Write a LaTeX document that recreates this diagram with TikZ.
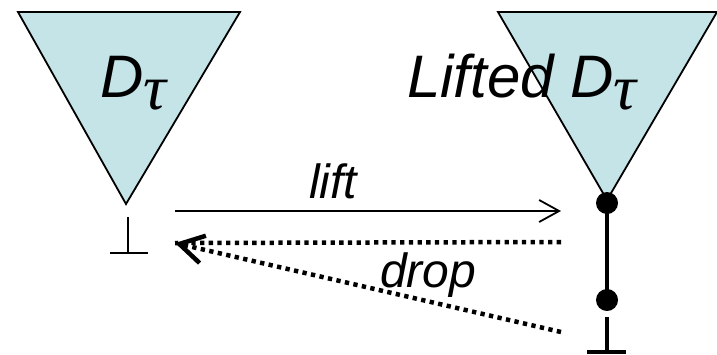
\documentclass[tikz,border=0pt]{standalone}
\usepackage{fontspec}
\setmainfont{Liberation Sans}
\newfontfamily\grk{Liberation Serif}
\usetikzlibrary{arrows.meta}
\definecolor{trifill}{RGB}{197,228,232}
\tikzset{
  tri/.style={fill=trifill,draw=black,line width=1.8pt,line join=miter},
  thinline/.style={line width=2.4pt},
  thickline/.style={line width=4.5pt},
  dots/.style={line width=4.5pt,dash pattern=on 4.3pt off 4.4pt},
  dotnode/.style={circle,fill=black,inner sep=0pt,minimum size=22pt},
  bigtxt/.style={anchor=base west,inner sep=0pt,font=\fontsize{60}{62}\selectfont\itshape},
  smalltxt/.style={anchor=base west,inner sep=0pt,font=\fontsize{48}{50}\selectfont\itshape},
}
\newcommand{\tausub}{\raisebox{-12pt}{\grk\fontsize{64}{64}\selectfont τ}}
\begin{document}
\begin{tikzpicture}[x=1pt,y=-1pt]
\useasboundingbox (0,0) rectangle (717,354);
% triangles
\draw[tri] (18,12) -- (240,12) -- (126,204) -- cycle;
\draw[tri] (498,12) -- (717,12) -- (607,200) -- cycle;
% labels
\node[bigtxt] (dl) at (100,97) {D\tausub};
\node[bigtxt] (dr) at (407,97) {Lifted D\tausub};
\node[smalltxt] (liftlbl) at (309,198) {lift};
\node[smalltxt] (droplbl) at (380,287) {drop};
% left bottom symbol
\coordinate (lbT) at (128,217);
\coordinate (lb) at (128,253);
\coordinate (lbL) at (110,253);
\coordinate (lbR) at (148,253);
\draw[thinline] (lbT) -- (lb);
\draw[thinline] (lbL) -- (lbR);
% right chain
\node[dotnode] (d1) at (607,203) {};
\node[dotnode] (d2) at (607,300) {};
\coordinate (rbT) at (607,317);
\coordinate (rb) at (607,352);
\coordinate (rbL) at (587,352);
\coordinate (rbR) at (626,352);
\draw[thickline] (d1.center) -- (d2.center);
\draw[thickline] (rbT) -- (rb);
\draw[thickline] (rbL) -- (rbR);
% arrows
\coordinate (liftS) at (175,211);
\coordinate (liftE) at (561,211);
\coordinate (dropA) at (561,242);
\coordinate (dropB) at (561,332);
\coordinate (dropT) at (175,243);
\draw[line width=2pt,-{Straight Barb[length=20pt,width=22pt,line width=1.8pt]}] (liftS) -- (liftE);
\draw[dots] (dropA) -- (dropT);
\draw[dots,-{Straight Barb[length=24pt,width=28pt,line width=4.5pt]}] (dropB) -- (dropT);
\end{tikzpicture}
\end{document}
